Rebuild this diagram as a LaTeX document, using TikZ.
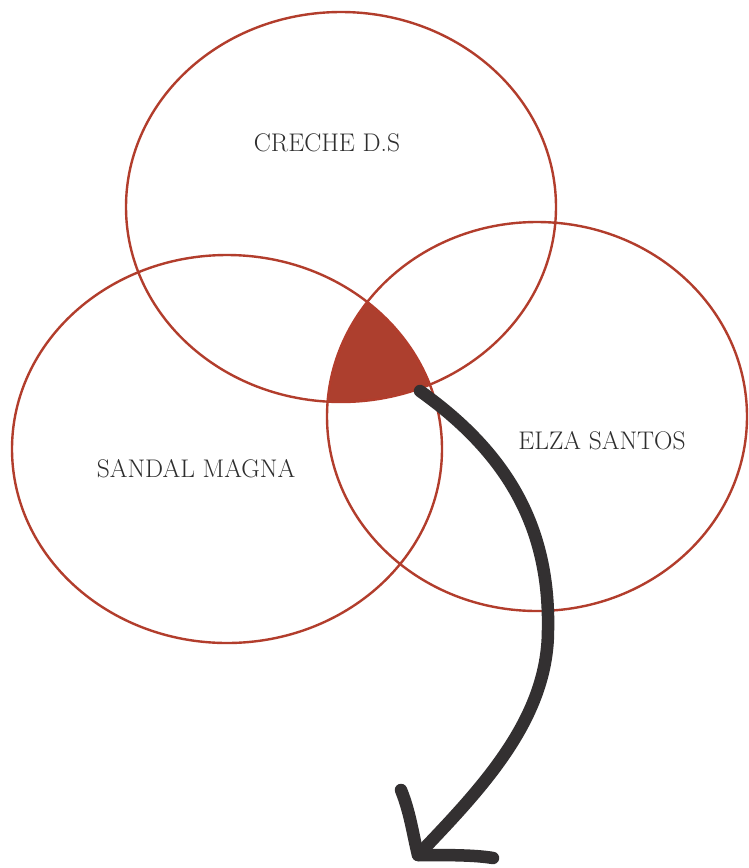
\documentclass[tikz,border=0pt]{standalone}
\definecolor{ringred}{HTML}{B23D2C}
\definecolor{fillred}{HTML}{AD3F2E}
\definecolor{arrowgray}{HTML}{333031}
\definecolor{textgray}{HTML}{2E2E2E}
\tikzset{
  ring/.style={draw=ringred, line width=2.4pt},
  lbl/.style={text=textgray, font=\fontsize{25.5}{30}\selectfont, inner sep=0pt},
  bigarrow/.style={draw=arrowgray, line width=12.5pt, line cap=round, line join=round},
}
\begin{document}
\begin{tikzpicture}[x=1pt,y=-1pt]
\fill[white] (0,0) rectangle (748,868);
\useasboundingbox (0,0) rectangle (748,868);
% intersection fill
\begin{scope}
  \clip (341,207) ellipse [x radius=215, y radius=195];
  \clip (227,449) ellipse [x radius=215, y radius=194];
  \fill[fillred] (537,416.5) ellipse [x radius=210, y radius=194.5];
\end{scope}
% ellipses
\draw[ring] (341,207) ellipse [x radius=215, y radius=195];
\draw[ring] (227,449) ellipse [x radius=215, y radius=194];
\draw[ring] (537,416.5) ellipse [x radius=210, y radius=194.5];
% labels
\node[lbl] (creche) at (327,143) {CRECHE D.S};
\node[lbl] (sandal) at (196,469) {SANDAL MAGNA};
\node[lbl] (elza) at (602,441) {ELZA SANTOS};
% arrow
\coordinate (astart) at (420,391);
\coordinate (amid) at (548,630);
\coordinate (atip) at (418,855);
\coordinate (barbL) at (401,790);
\coordinate (barbB) at (493,858);
\draw[bigarrow] (astart) .. controls (510,455) and (550,530) .. (amid)
  .. controls (548,720) and (480,790) .. (atip);
\draw[bigarrow] (barbL) .. controls (410,812) and (413,835) .. (atip)
  .. controls (450,855) and (475,855) .. (barbB);
\end{tikzpicture}
\end{document}
